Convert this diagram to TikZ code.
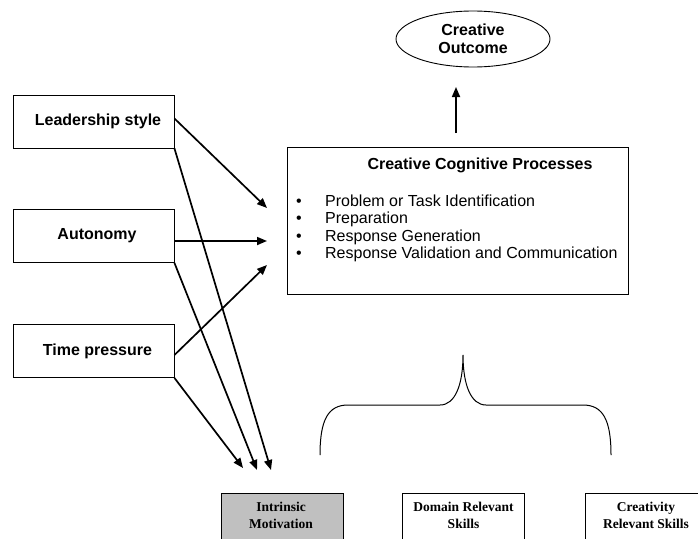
\documentclass[tikz,border=0pt]{standalone}
\usepackage{fontspec}
\setmainfont{Liberation Sans}
\newfontfamily\serifbold{Liberation Serif}
\usetikzlibrary{arrows.meta,shapes.geometric,calc}
\definecolor{imgray}{RGB}{192,192,192}
\begin{document}
\begin{tikzpicture}[x=1pt,y=-1pt,
  lbox/.style={draw,line width=0.9pt,inner sep=0pt,minimum width=161pt,minimum height=53pt,
    font=\fontsize{16}{19}\selectfont\bfseries},
  conn/.style={line width=1.7pt,-{Triangle[length=10pt,width=8pt]}},
  bitem/.style={anchor=base west,inner sep=0pt,font=\fontsize{16}{19}\selectfont},
  sbox/.style={draw,line width=0.9pt,inner sep=0pt,minimum width=122pt,minimum height=77pt},
  stext/.style={align=center,inner sep=0pt,font=\fontsize{13.5}{17}\selectfont\serifbold\bfseries}]
\useasboundingbox (0,0) rectangle (698,538);
\clip (0,0) rectangle (698,538);
\fill[white] (0,0) rectangle (698,538);

% left factor boxes
\node[lbox] (lead) at (93.5,121.5) {\hspace*{9pt}Leadership style};
\node[lbox] (auto) at (93.5,236) {\hspace*{7pt}Autonomy};
\node[lbox] (time) at (93.5,351) {\hspace*{8pt}Time pressure};

% creative cognitive processes
\node[draw,line width=0.9pt,inner sep=0pt,minimum width=341pt,minimum height=147pt] (ccp) at (457.5,220.5) {};
\node[anchor=base,inner sep=0pt,font=\fontsize{16}{19}\selectfont\bfseries] (ccpt) at (480,169) {Creative Cognitive Processes};
\node[bitem] (b1) at (296,206) {\makebox[29pt][l]{•}Problem or Task Identification};
\node[bitem] (b2) at (296,223.5) {\makebox[29pt][l]{•}Preparation};
\node[bitem] (b3) at (296,241) {\makebox[29pt][l]{•}Response Generation};
\node[bitem] (b4) at (296,258.5) {\makebox[29pt][l]{•}Response Validation and Communication};

% outcome
\node[draw,ellipse,line width=0.9pt,inner sep=0pt,minimum width=154pt,minimum height=56pt,
  align=center,font=\fontsize{16}{18.5}\selectfont\bfseries] (out) at (473,39) {Creative\\Outcome};
\coordinate (upS) at (456,133);
\coordinate (upE) at (456,87);
\draw[conn] (upS) -- (upE);

% arrows into the process box
\coordinate (t1) at (267,208);
\coordinate (t2) at (267,241);
\coordinate (t3) at (267,265);
\draw[conn] ([yshift=3pt]lead.east) -- (t1);
\draw[conn] ([yshift=-5pt]auto.east) -- (t2);
\draw[conn] ([yshift=-4pt]time.east) -- (t3);

% arrows to intrinsic motivation
\coordinate (m1) at (271,470);
\coordinate (m2) at (257,470);
\coordinate (m3) at (243,468);
\draw[conn] (lead.south east) -- (m1);
\draw[conn] (auto.south east) -- (m2);
\draw[conn] (time.south east) -- (m3);

% brace
\coordinate (brL) at (320,455);
\coordinate (brT) at (463,355);
\coordinate (brR) at (611,455);
\draw[line width=1pt] (brL) .. controls (320,420) and (328,405) .. (348,405) -- (440,405)
  .. controls (455,405) and (463,385) .. (brT)
  .. controls (463,385) and (471,405) .. (486,405) -- (583,405)
  .. controls (603,405) and (611,420) .. (brR);

% bottom boxes
\node[sbox,fill=imgray] (im) at (282,531.5) {};
\node[stext] (imt) at (281,515.5) {Intrinsic\\Motivation};
\node[sbox] (dom) at (463.5,531.5) {};
\node[stext] (domt) at (463.5,515.5) {Domain Relevant\\Skills};
\node[sbox] (cre) at (646,531.5) {};
\node[stext] (cret) at (646,515.5) {Creativity\\Relevant Skills};
\end{tikzpicture}
\end{document}
